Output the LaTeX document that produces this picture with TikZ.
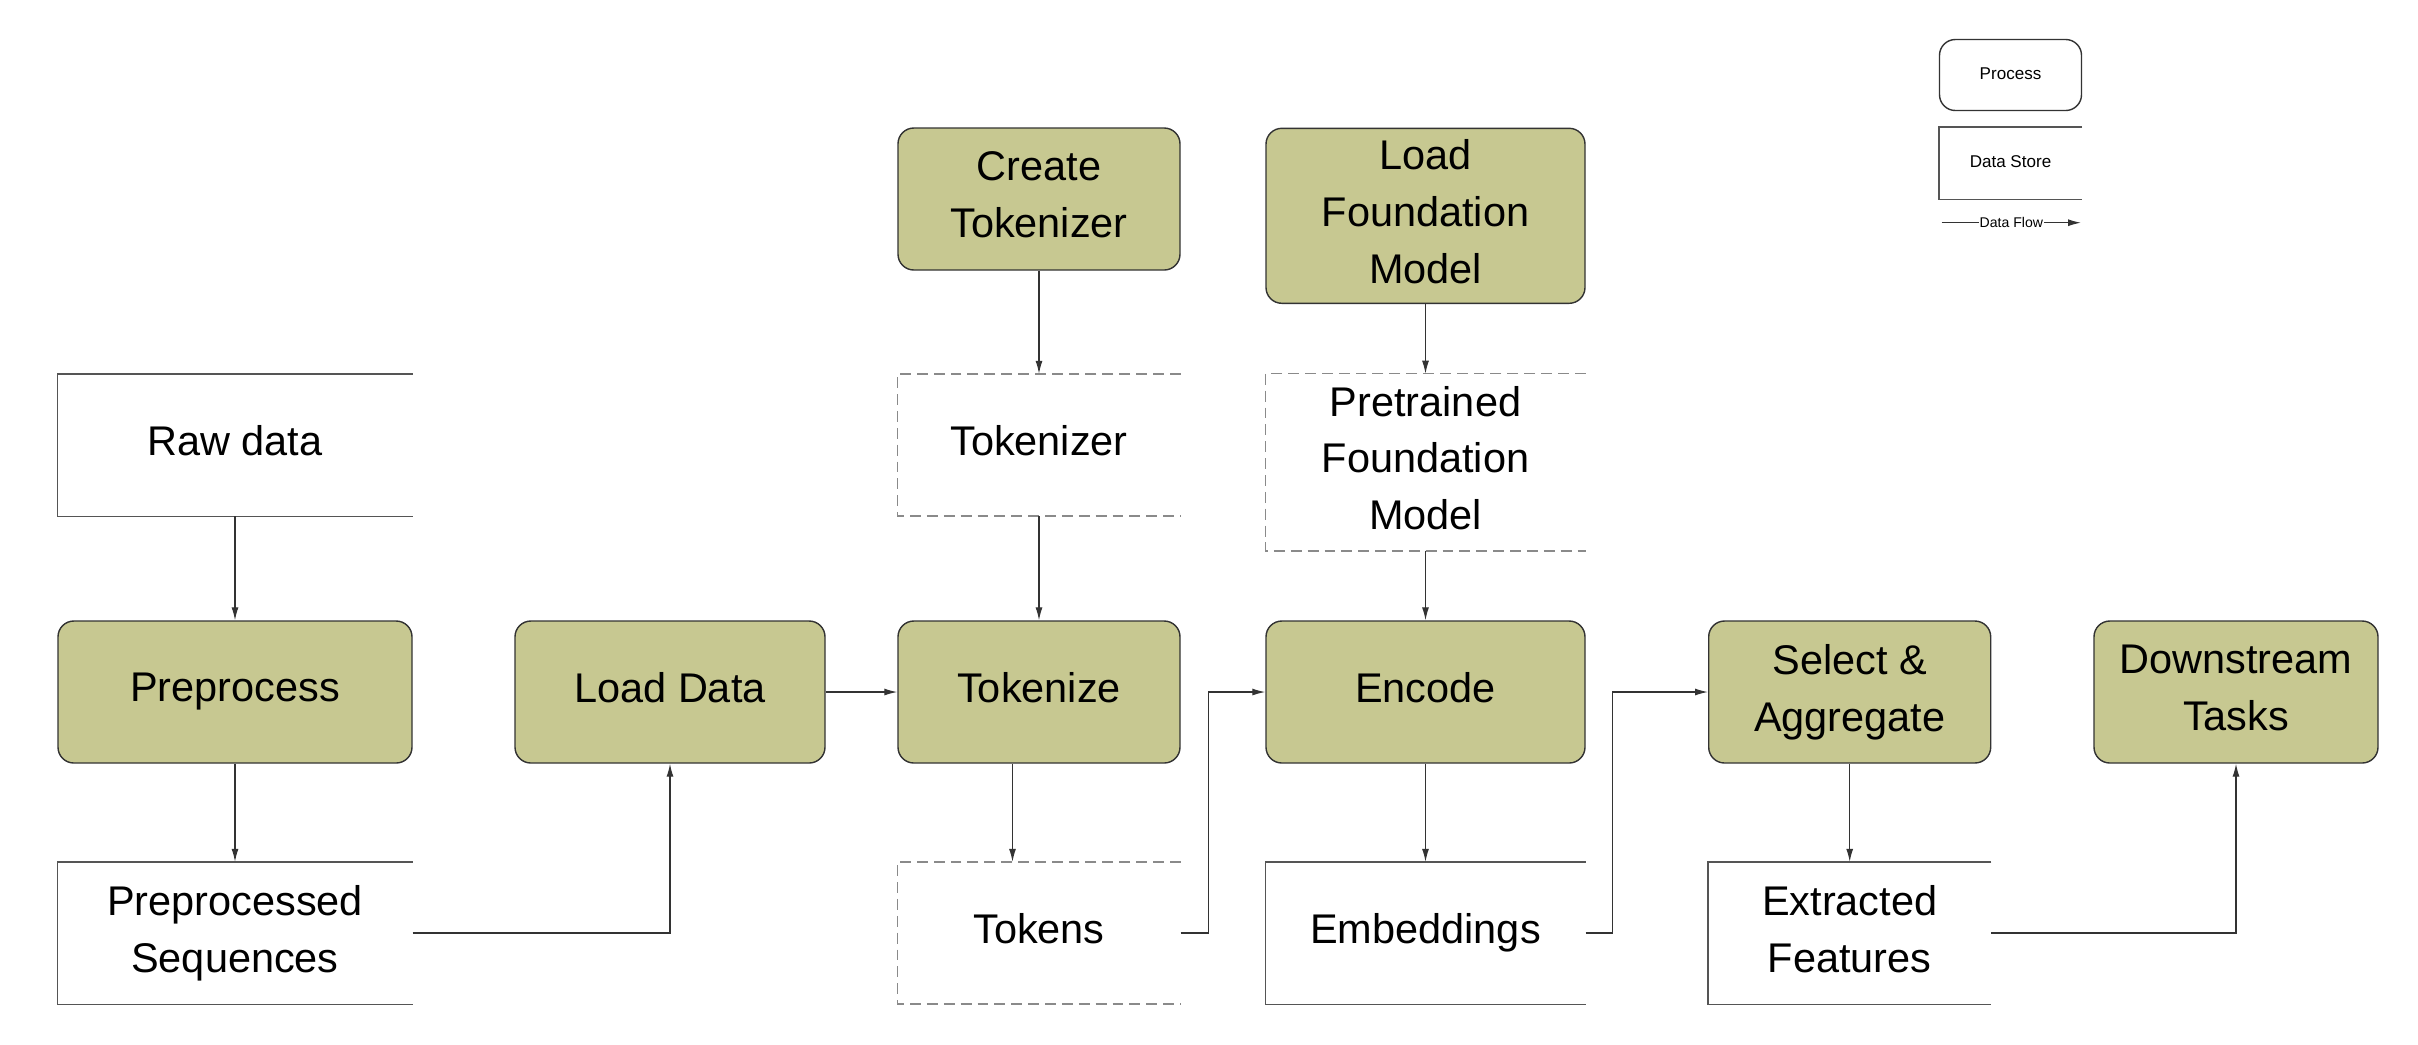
\documentclass[tikz,border=0pt]{standalone}
\usepackage{fontspec}
\setmainfont{Liberation Sans}
\usetikzlibrary{arrows.meta}
\definecolor{procfill}{HTML}{C7C891}
\definecolor{procline}{HTML}{333333}
\definecolor{storeline}{HTML}{555555}
\definecolor{dashline}{HTML}{8A8A8A}
\begin{document}
\begin{tikzpicture}[
	font=\fontsize{11.8}{16.2}\selectfont,
	proc/.style={draw=procline, fill=procfill, line width=0.4pt, rounded corners=4.5pt, align=center, inner sep=0pt, minimum width=#1, minimum height=1.42cm, execute at end node={\vphantom{g}}},
	store/.style 2 args={align=center, inner sep=0pt, minimum width=#1, minimum height=1.41cm, execute at end node={\vphantom{g}},
		append after command={\pgfextra{\begin{pgfinterruptpath}
			\draw[#2] (\tikzlastnode.north east) -- (\tikzlastnode.north west) -- (\tikzlastnode.south west) -- (\tikzlastnode.south east);
		\end{pgfinterruptpath}}}},
	solidstore/.style={draw=storeline, line width=0.4pt},
	dashstore/.style={draw=dashline, line width=0.45pt, dash pattern=on 3.1pt off 1.7pt},
	flow/.style={draw=procline, line width=0.35pt, -{Latex[length=3.7pt,width=2pt]}},
	legend/.style={font=\fontsize{4.85}{6}\selectfont}
	]
	\useasboundingbox (0,0) rectangle (24.18,-10.44);

	\node[proc=1.42cm, fill=white, minimum height=0.71cm, legend] (LP) at (20.105,-0.75) {Process};
	\node[store={1.42cm}{solidstore}, minimum height=0.71cm, legend] (LS) at (20.105,-1.633) {Data Store};
	\coordinate (LA) at (19.417,-2.227);
	\coordinate (LB) at (20.81,-2.227);
	\draw[flow] (LA) -- node[fill=white, inner sep=0.3pt, font=\fontsize{4}{5}\selectfont] (LF) {Data Flow} (LB);

	\node[store={3.54cm}{solidstore}] (RD) at (2.35,-4.45) {Raw data};
	\node[proc=3.54cm] (PP) at (2.35,-6.92) {Preprocess};
	\node[store={3.54cm}{solidstore}] (PS) at (2.35,-9.33) {Preprocessed\\Sequences};
	\node[proc=3.10cm] (LD) at (6.70,-6.92) {Load Data};
	\node[proc=2.82cm] (CT) at (10.39,-1.99) {Create\\Tokenizer};
	\node[store={2.82cm}{dashstore}] (TR) at (10.39,-4.45) {Tokenizer};
	\node[proc=2.82cm] (TK) at (10.39,-6.92) {Tokenize};
	\node[store={2.82cm}{dashstore}] (TS) at (10.39,-9.33) {Tokens};
	\node[proc=3.19cm, minimum height=1.75cm] (LM) at (14.255,-2.158) {Load\\Foundation\\Model};
	\node[store={3.19cm}{dashstore}, minimum height=1.757cm] (PM) at (14.255,-4.622) {Pretrained\\Foundation\\Model};
	\node[proc=3.19cm] (EN) at (14.255,-6.92) {Encode};
	\node[store={3.19cm}{solidstore}] (EM) at (14.255,-9.33) {Embeddings};
	\node[proc=2.82cm] (SA) at (18.497,-6.92) {Select \&\\Aggregate};
	\node[store={2.82cm}{solidstore}] (EF) at (18.497,-9.33) {Extracted\\Features};
	\node[proc=2.84cm] (DT) at (22.36,-6.92) {Downstream\\Tasks};

	\draw[flow] (RD) -- (PP);
	\draw[flow] (PP) -- (PS);
	\draw[flow] (PS.east) -| (LD.south);
	\draw[flow] (LD) -- (TK);
	\draw[flow] (CT) -- (TR);
	\draw[flow] (TR) -- (TK);
	\draw[flow] ([xshift=-0.265cm]TK.south) -- ([xshift=-0.265cm]TS.north);
	\draw[flow] (TS.east) -- ++(0.28,0) |- (EN.west);
	\draw[flow] (LM) -- (PM);
	\draw[flow] (PM) -- (EN);
	\draw[flow] (EN) -- (EM);
	\draw[flow] (EM.east) -- ++(0.27,0) |- (SA.west);
	\draw[flow] (SA) -- (EF);
	\draw[flow] (EF.east) -| (DT.south);
\end{tikzpicture}
\end{document}
